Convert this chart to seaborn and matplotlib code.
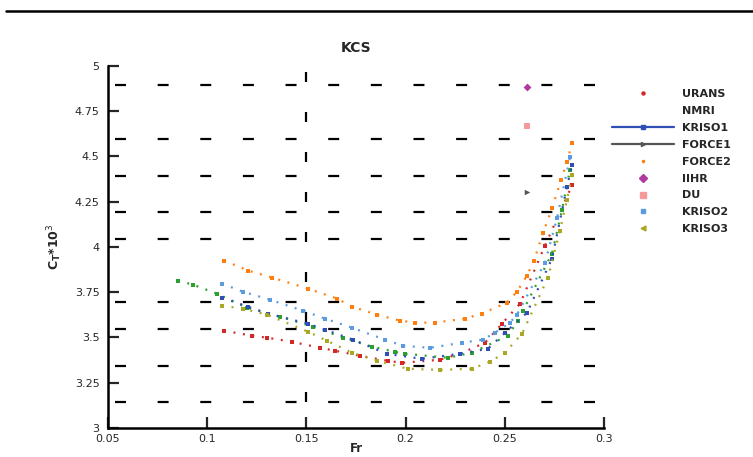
import matplotlib
matplotlib.use('Agg')
import matplotlib.pyplot as plt
from matplotlib.lines import Line2D
import seaborn as sns

# Data (Fr vs CT*10^3)
fr_urans = [0.1085, 0.1226, 0.1301, 0.1428, 0.1569, 0.1644, 0.1770, 0.1911, 0.1982, 0.2173, 0.2274, 0.2400, 0.2486, 0.2577, 0.2703, 0.2839]
ct_urans = [3.537, 3.510, 3.499, 3.476, 3.443, 3.427, 3.399, 3.371, 3.360, 3.377, 3.410, 3.471, 3.576, 3.687, 4.008, 4.341]

fr_nmri = [0.0853, 0.0928, 0.1049, 0.1200, 0.1367, 0.1533, 0.1684, 0.1831, 0.1946, 0.1997, 0.2214, 0.2335, 0.2516, 0.2566, 0.2592, 0.2738, 0.2788, 0.2828]
ct_nmri = [3.814, 3.792, 3.742, 3.665, 3.615, 3.560, 3.499, 3.449, 3.421, 3.410, 3.388, 3.416, 3.510, 3.593, 3.648, 3.964, 4.202, 4.424]

fr_kriso1 = [0.1075, 0.1206, 0.1306, 0.1508, 0.1594, 0.1735, 0.1906, 0.2082, 0.2274, 0.2415, 0.2501, 0.2612, 0.2738, 0.2813, 0.2839]
ct_kriso1 = [3.720, 3.670, 3.632, 3.576, 3.543, 3.488, 3.410, 3.382, 3.410, 3.438, 3.526, 3.637, 3.936, 4.330, 4.452]

fr_force2 = [0.1085, 0.1206, 0.1327, 0.1508, 0.1654, 0.1730, 0.1856, 0.1972, 0.2047, 0.2148, 0.2299, 0.2385, 0.2511, 0.2561, 0.2612, 0.2647, 0.2692, 0.2738, 0.2783, 0.2813, 0.2839]
ct_force2 = [3.925, 3.870, 3.831, 3.770, 3.715, 3.670, 3.626, 3.593, 3.582, 3.582, 3.604, 3.632, 3.693, 3.753, 3.842, 3.925, 4.075, 4.213, 4.368, 4.468, 4.573]

fr_kriso2 = [0.1075, 0.1180, 0.1316, 0.1483, 0.1594, 0.1730, 0.1896, 0.1987, 0.2123, 0.2284, 0.2390, 0.2450, 0.2526, 0.2561, 0.2703, 0.2763, 0.2829]
ct_kriso2 = [3.798, 3.753, 3.709, 3.648, 3.604, 3.554, 3.488, 3.454, 3.443, 3.471, 3.488, 3.526, 3.582, 3.626, 3.914, 4.158, 4.496]

fr_kriso3 = [0.1075, 0.1180, 0.1301, 0.1508, 0.1604, 0.1730, 0.1856, 0.2012, 0.2173, 0.2335, 0.2425, 0.2501, 0.2587, 0.2718, 0.2778, 0.2813, 0.2839]
ct_kriso3 = [3.676, 3.659, 3.626, 3.532, 3.482, 3.416, 3.371, 3.327, 3.321, 3.327, 3.366, 3.416, 3.521, 3.831, 4.091, 4.258, 4.396]

fr_iihr, ct_iihr = [0.2612], [4.884]
fr_du, ct_du = [0.2612], [4.668]
fr_force1, ct_force1 = [0.2612], [4.302]

# odd dashed reference lines seen in the picture
hgrid = [4.895, 4.597, 4.392, 4.193, 4.044, 3.696, 3.547, 3.343, 3.144]

sns.set_style('white')
plt.rcParams['font.family'] = ['DejaVu Sans']
plt.rcParams['lines.scale_dashes'] = False

fig = plt.figure(figsize=(7.53, 4.57), dpi=100)
ax = fig.add_axes([0.1434, 0.0635, 0.6587, 0.7921])

for y in hgrid:
    ax.plot([0.0535, 0.296], [y, y], color='black', lw=1.6,
            linestyle=(0, (7.9, 22.8)), zorder=1)
ax.plot([0.15, 0.15], [4.967, 3.139], color='black', lw=1.6,
        linestyle=(0, (7.2, 21.6)), zorder=1)

dot = (0, (1.4, 5.5))
series = [
    (fr_urans, ct_urans, '#d62728'),
    (fr_nmri, ct_nmri, '#2ca02c'),
    (fr_kriso1, ct_kriso1, '#2f4fb5'),
    (fr_force2, ct_force2, '#ff7f0e'),
    (fr_kriso2, ct_kriso2, '#5b9be0'),
    (fr_kriso3, ct_kriso3, '#a9a825'),
]
for fx, cy, col in series:
    sns.lineplot(x=fx, y=cy, ax=ax, color=col, lw=1.6, linestyle=dot,
                 marker='s', markersize=2.2, markeredgewidth=0, sort=False, zorder=3)

sns.scatterplot(x=fr_iihr, y=ct_iihr, ax=ax, color='#b03aa0', marker='D', s=16, linewidth=0, zorder=4)
sns.scatterplot(x=fr_du, y=ct_du, ax=ax, color='#f59a9a', marker='s', s=22, linewidth=0, zorder=4)
sns.scatterplot(x=fr_force1, y=ct_force1, ax=ax, color='#555555', marker='>', s=16, linewidth=0, zorder=4)

ax.set_xlim(0.05, 0.3)
ax.set_ylim(3, 5)
ax.set_xticks([0.05, 0.1, 0.15, 0.2, 0.25, 0.3])
ax.set_xticklabels(['0.05', '0.1', '0.15', '0.2', '0.25', '0.3'])
ax.set_yticks([3, 3.25, 3.5, 3.75, 4, 4.25, 4.5, 4.75, 5])
ax.set_yticklabels(['3', '3.25', '3.5', '3.75', '4', '4.25', '4.5', '4.75', '5'])
ax.tick_params(axis='both', direction='in', length=8, width=1.6, labelsize=8, pad=6,
               left=True, bottom=True, top=False, right=False)
ax.tick_params(axis='x', pad=4)
for s in ['top', 'right']:
    ax.spines[s].set_visible(False)
for s in ['left', 'bottom']:
    ax.spines[s].set_linewidth(1.8)
    ax.spines[s].set_color('black')

ax.set_title('KCS', fontsize=10, fontweight='bold', pad=10)
ax.set_xlabel('Fr', fontsize=8.5, fontweight='bold', labelpad=-1)
ax.set_ylabel('$\\mathbf{C_T}$*10$^3$', fontsize=9, fontweight='bold', labelpad=8)

handles = [
    Line2D([], [], color='#d62728', marker='o', markersize=2.2, linestyle='none'),
    Line2D([], [], color='#2ca02c', linestyle='none'),
    Line2D([], [], color='#2f4fb5', marker='s', markersize=3, lw=1.6),
    Line2D([], [], color='#555555', marker='>', markersize=3, lw=1.6),
    Line2D([], [], color='#ff7f0e', marker='.', markersize=3, linestyle='none'),
    Line2D([], [], color='#b03aa0', marker='D', markersize=4, linestyle='none'),
    Line2D([], [], color='#f59a9a', marker='s', markersize=5, linestyle='none'),
    Line2D([], [], color='#5b9be0', marker='s', markersize=2.5, linestyle='none'),
    Line2D([], [], color='#a9a825', marker='<', markersize=3.5, linestyle='none'),
]
labels = ['URANS', 'NMRI', 'KRISO1', 'FORCE1', 'FORCE2', 'IIHR', 'DU', 'KRISO2', 'KRISO3']
fig.legend(handles, labels, loc='upper left', bbox_to_anchor=(0.813, 0.805),
           frameon=False, handlelength=5.6, handletextpad=0.7,
           labelspacing=0.62, borderaxespad=0, borderpad=0,
           prop={'weight': 'bold', 'size': 8})

fig.add_artist(Line2D([0.008, 1.0], [1 - 11 / 457, 1 - 11 / 457], color='black', lw=1.8))

fig.savefig('out.png', dpi=100)
